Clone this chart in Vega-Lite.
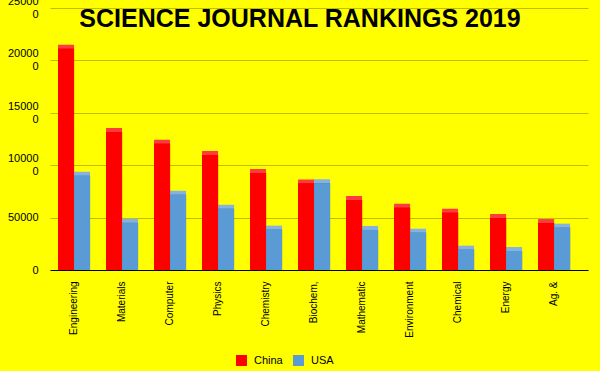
{
  "$schema": "https://vega.github.io/schema/vega-lite/v6.json",
  "width": 538,
  "height": 262,
  "autosize": {"type": "none"},
  "padding": {"left": 50, "top": 8, "right": 12, "bottom": 101},
  "background": "#FFFF00",
  "title": {
    "text": "SCIENCE JOURNAL RANKINGS 2019",
    "font": "Liberation Sans",
    "fontSize": 25,
    "fontWeight": "bold",
    "color": "#000000",
    "anchor": "middle",
    "frame": "group",
    "baseline": "top",
    "offset": 0,
    "dy": 36,
    "dx": -19
  },
  "config": {
    "view": {"stroke": null},
    "axis": {"labelFont": "Liberation Sans", "labelColor": "#000000", "labelFontSize": 11},
    "legend": {
      "labelFont": "Liberation Sans",
      "labelFontSize": 11,
      "labelColor": "#000000"
    }
  },
  "data": {
    "values": [
      {"field": "Engineering", "country": "China", "value": 211000},
      {"field": "Engineering", "country": "USA", "value": 90000},
      {"field": "Materials", "country": "China", "value": 131700},
      {"field": "Materials", "country": "USA", "value": 45000},
      {"field": "Computer", "country": "China", "value": 120500},
      {"field": "Computer", "country": "USA", "value": 71800},
      {"field": "Physics", "country": "China", "value": 109700},
      {"field": "Physics", "country": "USA", "value": 58500},
      {"field": "Chemistry", "country": "China", "value": 92500},
      {"field": "Chemistry", "country": "USA", "value": 38500},
      {"field": "Biochem,", "country": "China", "value": 82500},
      {"field": "Biochem,", "country": "USA", "value": 82700},
      {"field": "Mathematic", "country": "China", "value": 66800},
      {"field": "Mathematic", "country": "USA", "value": 38200},
      {"field": "Environment", "country": "China", "value": 59400},
      {"field": "Environment", "country": "USA", "value": 35600},
      {"field": "Chemical", "country": "China", "value": 54700},
      {"field": "Chemical", "country": "USA", "value": 19400},
      {"field": "Energy", "country": "China", "value": 49600},
      {"field": "Energy", "country": "USA", "value": 18100},
      {"field": "Ag. &", "country": "China", "value": 44800},
      {"field": "Ag. &", "country": "USA", "value": 40400}
    ]
  },
  "encoding": {
    "x": {
      "field": "field",
      "type": "nominal",
      "sort": null,
      "scale": {"paddingInner": 0.333, "paddingOuter": 0.27, "align": 0.31},
      "axis": {
        "title": null,
        "labelAngle": -90,
        "labelPadding": 11,
        "labelFontSize": 10,
        "ticks": false,
        "domain": true,
        "domainColor": "#000000",
        "domainWidth": 1
      }
    },
    "xOffset": {"field": "country", "type": "nominal", "sort": ["China", "USA"]},
    "y": {
      "field": "value",
      "type": "quantitative",
      "scale": {"domain": [0, 250000], "nice": false},
      "axis": {
        "title": null,
        "values": [0, 50000, 100000, 150000, 200000, 250000],
        "format": "d",
        "labelExpr": "length(datum.label) > 5 ? [slice(datum.label, 0, 5), slice(datum.label, 5)] : datum.label",
        "labelLineHeight": 13,
        "labelOffset": {"expr": "datum.value >= 100000 ? -6.5 : 0"},
        "labelPadding": 12,
        "domain": false,
        "ticks": false,
        "grid": true,
        "gridColor": "#BFBF00",
        "gridWidth": 1
      }
    }
  },
  "layer": [
    {
      "mark": {"type": "bar", "xOffset": 4, "yOffset": -4},
      "encoding": {
        "color": {
          "field": "country",
          "type": "nominal",
          "scale": {"domain": ["China", "USA"], "range": ["#FF3B3B", "#86B2DE"]},
          "legend": null
        }
      }
    },
    {
      "mark": {"type": "bar", "xOffset": 4},
      "encoding": {
        "color": {
          "field": "country",
          "type": "nominal",
          "scale": {"domain": ["China", "USA"], "range": ["#B00000", "#3E6A93"]},
          "legend": null
        }
      }
    },
    {
      "mark": {"type": "bar"},
      "encoding": {
        "color": {
          "field": "country",
          "type": "nominal",
          "scale": {"domain": ["China", "USA"], "range": ["#FF0000", "#5B9BD5"]},
          "legend": {
            "title": null,
            "orient": "none",
            "legendX": 186,
            "legendY": 347,
            "direction": "horizontal",
            "symbolType": "square",
            "symbolSize": 121,
            "symbolStrokeWidth": 0,
            "labelOffset": 7,
            "columnPadding": 10
          }
        }
      }
    }
  ],
  "resolve": {"scale": {"color": "independent"}}
}
